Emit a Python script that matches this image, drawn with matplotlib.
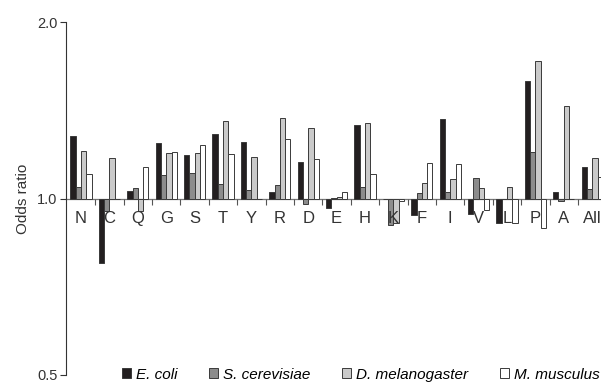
import numpy as np
import matplotlib
matplotlib.use("Agg")
from matplotlib import pyplot as plt
from matplotlib.patches import Patch

plt.rcParams['font.family'] = ['Liberation Sans', 'DejaVu Sans']

amino = ["N", "C", "Q", "G", "S", "T", "Y", "R", "D", "E", "H", "K", "F", "I", "V", "L", "P", "A", "All"]
species = ["E. coli", "S. cerevisiae", "D. melanogaster", "M. musculus"]

ecoli = [1.278, 0.776, 1.028, 1.242, 1.184, 1.287, 1.248, 1.025, 1.152, 0.963, 1.333, 1.0, 0.936, 1.365, 0.940, 0.907, 1.585, 1.024, 1.131]
scere = [1.047, 0.951, 1.041, 1.098, 1.107, 1.060, 1.035, 1.055, 0.979, 1.003, 1.045, 0.900, 1.021, 1.027, 1.083, 1.0, 1.200, 0.991, 1.036]
dmel = [1.205, 1.174, 0.951, 1.197, 1.197, 1.356, 1.178, 1.372, 1.317, 1.007, 1.344, 0.909, 1.064, 1.078, 1.043, 1.048, 1.717, 1.437, 1.172]
mmus = [1.102, 1.0, 1.131, 1.202, 1.234, 1.190, 1.0, 1.265, 1.166, 1.025, 1.100, 0.989, 1.151, 1.143, 0.955, 0.907, 0.889, 1.0, 1.086]

series = [ecoli, scere, dmel, mmus]
colors = ["#231f20", "#8c8c8c", "#cacaca", "#ffffff"]

fig = plt.figure(figsize=(6.01, 3.82), dpi=100)
ax = fig.add_axes([66 / 601, 7 / 382, 1 - 66 / 601, 353 / 382])

x = np.arange(len(amino))
w = 0.187
for i, vals in enumerate(series):
    v = np.array(vals)
    ax.bar(x + (i - 1.5) * w, v - 1, bottom=1, width=w, color=colors[i],
           edgecolor="#3a3a3a", linewidth=0.7, label=species[i])

ax.set_yscale("log")
ax.set_ylim(0.5, 2.0)
ax.set_yticks([0.5, 1.0, 2.0])
ax.set_yticklabels(["0.5", "1.0", "2.0"], fontsize=10.5, color="#333333")
ax.yaxis.set_minor_locator(plt.NullLocator())
ax.tick_params(axis="y", length=4, width=0.8, color="#333333", pad=2)
ax.set_xlim(-0.53, 18.31)

ax.spines["top"].set_visible(False)
ax.spines["right"].set_visible(False)
ax.spines["left"].set_color("#333333")
ax.spines["left"].set_linewidth(0.8)
ax.spines["bottom"].set_position(("data", 1.0))
ax.spines["bottom"].set_color("#777777")
ax.spines["bottom"].set_linewidth(0.9)
ax.spines["bottom"].set_zorder(0.5)

ax.set_xticks(x)
ax.set_xticklabels(amino, fontsize=12, color="#333333")
ax.set_xticks(x[:-1] + 0.5, minor=True)
ax.tick_params(axis="x", which="major", length=0, pad=9)
ax.tick_params(axis="x", which="minor", length=4, width=0.8, color="#555555")

ax.set_ylabel("Odds ratio", fontsize=11, color="#333333", labelpad=5)

handles = [Patch(facecolor=colors[i], edgecolor="#3a3a3a", linewidth=0.7) for i in range(4)]
fig.legend(handles, species, loc="lower left", bbox_to_anchor=(108 / 601, -0.035), ncol=4,
           frameon=False, prop={"style": "italic", "size": 11}, handlelength=0.6,
           handleheight=0.6, handletextpad=0.3, columnspacing=2.1)

fig.savefig("out.png", dpi=100)
